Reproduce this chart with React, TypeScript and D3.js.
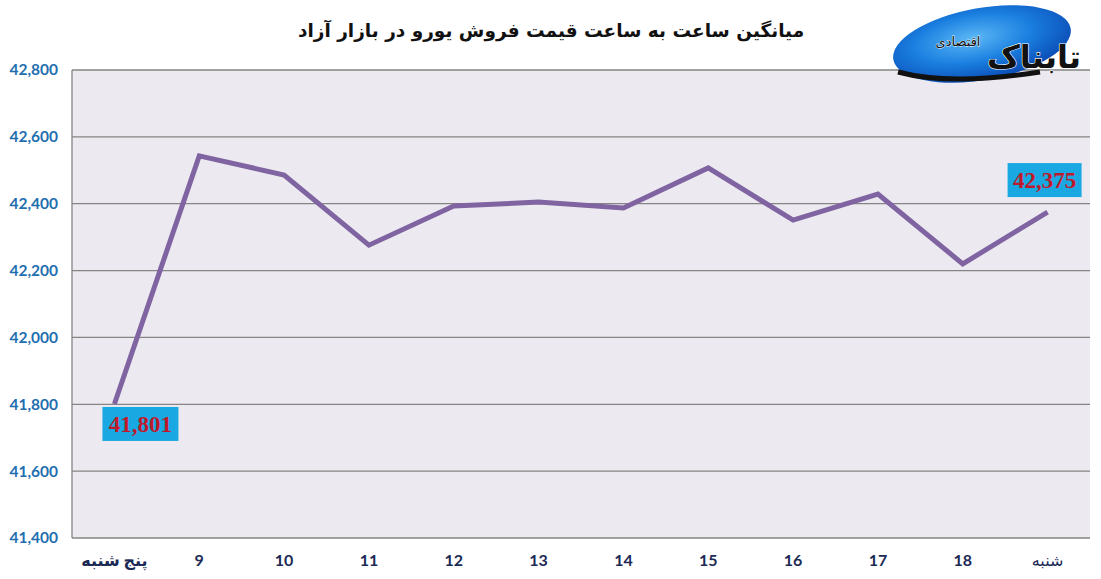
import * as d3 from "d3";

const categories = ["پنج شنبه", "9", "10", "11", "12", "13", "14", "15", "16", "17", "18", "شنبه"];
const prices = [41801, 42543, 42486, 42276, 42393, 42405, 42387, 42507, 42351, 42429, 42220, 42375];
const yTicks = [41400, 41600, 41800, 42000, 42200, 42400, 42600, 42800];
const title = "میانگین ساعت به ساعت قیمت فروش یورو در بازار آزاد";

const W = 1101;
const H = 579;
const margin = { top: 70, right: 11, bottom: 41, left: 72 };

export default function App() {
  const x = d3
    .scaleBand<string>()
    .domain(categories)
    .range([margin.left, W - margin.right])
    .paddingInner(0);
  const y = d3.scaleLinear().domain([41400, 42800]).range([H - margin.bottom, margin.top]);
  const cx = (c: string) => (x(c) as number) + x.bandwidth() / 2;

  const line = d3
    .line<number>()
    .x((d, i) => cx(categories[i]))
    .y((d) => y(d));

  const fmt = d3.format(",");
  const first = prices[0];
  const last = prices[prices.length - 1];

  return (
    <svg
      width={W}
      height={H}
      style={{ position: "absolute", left: 0, top: 0, background: "#fff" }}
    >
      <defs>
        <radialGradient id="logoGrad" cx="45%" cy="40%" r="60%">
          <stop offset="0%" stopColor="#5cb8f5" />
          <stop offset="55%" stopColor="#1a7fe0" />
          <stop offset="100%" stopColor="#0b4fb8" />
        </radialGradient>
      </defs>

      {/* plot background */}
      <rect
        x={margin.left}
        y={margin.top}
        width={W - margin.left - margin.right}
        height={H - margin.top - margin.bottom}
        fill="#ECEAF0"
      />

      {/* gridlines */}
      {yTicks.map((t) => (
        <line
          key={t}
          x1={margin.left}
          x2={W - margin.right}
          y1={y(t)}
          y2={y(t)}
          stroke="#858585"
          strokeWidth={1.3}
        />
      ))}
      <line
        x1={margin.left}
        x2={margin.left}
        y1={margin.top}
        y2={H - margin.bottom}
        stroke="#858585"
        strokeWidth={1.3}
      />

      {/* y tick labels */}
      {yTicks.map((t) => (
        <text
          key={t}
          x={58}
          y={y(t)}
          dy="0.35em"
          textAnchor="end"
          fill="#1F6FB0"
          fontFamily="Lato, 'Open Sans', sans-serif"
          fontWeight="bold"
          fontSize={15.5}
        >
          {fmt(t)}
        </text>
      ))}

      {/* x tick labels */}
      {categories.map((c, i) => (
        <text
          key={c}
          x={cx(c)}
          y={566}
          textAnchor="middle"
          fill="#1B2A55"
          fontFamily="Lato, 'DejaVu Sans', sans-serif"
          fontWeight={i === categories.length - 1 ? "normal" : "bold"}
          fontSize={16}
        >
          {c}
        </text>
      ))}

      {/* line */}
      <path
        d={line(prices) as string}
        fill="none"
        stroke="#8064A2"
        strokeWidth={5}
        strokeLinejoin="miter"
      />

      {/* data labels */}
      <rect x={cx(categories[0]) - 12} y={y(first) + 3} width={76} height={34} fill="#1AA8E2" />
      <text
        x={cx(categories[0]) + 26}
        y={y(first) + 20}
        dy="0.35em"
        textAnchor="middle"
        fill="#C0182B"
        fontFamily="'Liberation Serif', 'DejaVu Serif', serif"
        fontWeight="bold"
        fontSize={23}
      >
        {fmt(first)}
      </text>
      <rect
        x={cx(categories[categories.length - 1]) - 40}
        y={y(last) - 49}
        width={74}
        height={34}
        fill="#1AA8E2"
      />
      <text
        x={cx(categories[categories.length - 1]) - 3}
        y={y(last) - 32}
        dy="0.35em"
        textAnchor="middle"
        fill="#C0182B"
        fontFamily="'Liberation Serif', 'DejaVu Serif', serif"
        fontWeight="bold"
        fontSize={23}
      >
        {fmt(last)}
      </text>

      {/* title */}
      <text
        x={551}
        y={37}
        textAnchor="middle"
        fill="#111"
        fontFamily="'DejaVu Sans', sans-serif"
        fontWeight="bold"
        fontSize={18.5}
        direction="rtl"
      >
        {title}
      </text>

      {/* logo */}
      <g>
        <ellipse cx={982} cy={44} rx={90} ry={36} fill="url(#logoGrad)" transform="rotate(-10 982 44)" />
        <path d="M898 72 Q950 86 1040 72" stroke="#111" strokeWidth={5} fill="none" />
        <text
          x={1034}
          y={68}
          textAnchor="middle"
          fill="#111"
          fontFamily="'DejaVu Sans', sans-serif"
          fontWeight="bold"
          fontSize={32}
          direction="rtl"
          stroke="#fff"
          strokeWidth={1.2}
          paintOrder="stroke"
        >
          تابناک
        </text>
        <text
          x={958}
          y={46}
          textAnchor="middle"
          fill="#111"
          fontFamily="'DejaVu Sans', sans-serif"
          fontSize={13}
          direction="rtl"
          stroke="#fff"
          strokeWidth={0.8}
          paintOrder="stroke"
        >
          اقتصادی
        </text>
      </g>
    </svg>
  );
}
